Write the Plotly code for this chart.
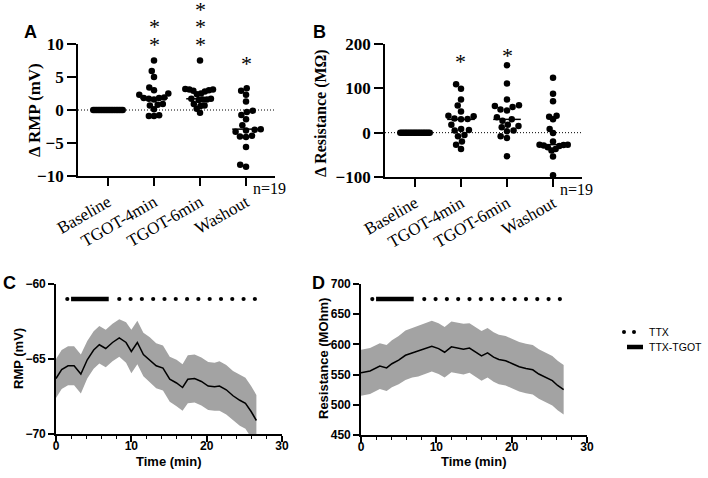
import numpy as np
import plotly.graph_objects as go

W, H = 708, 478

# ---------------- data ----------------
categories = ["Baseline", "TGOT-4min", "TGOT-6min", "Washout"]

rmp_baseline = [0, 0, 0, 0, 0, 0, 0, 0, 0, 0, 0, 0, 0, 0, 0, 0, 0, 0, 0]
rmp_tgot4 = [7.5, 5.9, 5.0, 3.4, 3.0, 2.5, 2.3, 1.9, 1.8, 1.8, 1.7, 1.6, 0.9, 0.8, 0.7, 0.1, -0.8, -0.9, -0.9]
rmp_tgot6 = [7.5, 3.2, 3.1, 3.1, 3.0, 2.9, 2.8, 2.5, 2.4, 1.7, 1.7, 1.6, 1.6, 1.5, 0.9, 0.7, 0.6, 0.2, -0.4]
rmp_washout = [3.3, 2.9, 2.3, 1.3, -0.1, -0.3, -0.75, -1.4, -2.3, -2.9, -3.0, -3.1, -3.3, -3.9, -4.0, -4.1, -5.6, -8.3, -8.6]

res_baseline = [0, 0, 0, 0, 0, 0, 0, 0, 0, 0, 0, 0, 0, 0, 0, 0, 0, 0, 0]
res_tgot4 = [109, 99, 75, 61, 48, 38, 37, 32, 31, 30, 18, 8, 6, 5, -5, -8, -20, -27, -37]
res_tgot6 = [152, 111, 75, 62, 60, 58, 52, 50, 35, 30, 27, 18, 15, 12, 5, 3, -8, -12, -53]
res_washout = [124, 88, 71, 38, 36, 30, 8, -1, -20, -27, -27, -28, -29, -30, -33, -37, -40, -54, -96]

# significance marks: category index and height (fraction of plot height) of each asterisk
rmp_star_cats = [1, 1, 2, 2, 2, 3]
rmp_star_h = [1.129, 1.0, 1.258, 1.129, 1.0, 0.849]
res_star_cats = [1, 2]
res_star_h = [0.872, 0.912]
n_label = "n=19"

t_c = [0, 0.75, 1.6, 2.4, 3.3, 4.15, 5.0, 5.75, 6.6, 7.5, 8.4, 9.3, 10.0, 10.8, 11.6,
       12.45, 13.3, 14.2, 15.1, 16.0, 16.8, 17.5, 18.4, 19.3, 20.2, 21.05, 21.7, 22.6,
       23.5, 24.4, 25.15, 25.9, 26.6]
rmp_mean = [-66.3, -65.7, -65.45, -65.45, -66.0, -65.05, -64.4, -64.05, -64.3, -63.9,
            -63.6, -63.9, -64.5, -63.9, -64.7, -65.05, -65.45, -65.6, -66.35, -66.6,
            -66.9, -66.35, -66.3, -66.5, -66.8, -66.85, -66.8, -67.05, -67.45, -67.75,
            -67.95, -68.5, -69.1]
rmp_sem = [1.3, 1.3, 1.3, 1.3, 1.3, 1.25, 1.25, 1.25, 1.25, 1.25, 1.25, 1.35, 1.45, 1.45,
           1.45, 1.5, 1.5, 1.5, 1.5, 1.55, 1.55, 1.6, 1.6, 1.6, 1.6, 1.6, 1.65, 1.65, 1.65,
           1.7, 1.7, 1.7, 1.7]

t_d = [0, 1.2, 2.5, 3.4, 4.1, 5.0, 5.9, 6.8, 7.6, 8.5, 9.4, 10.3, 11.1, 12.0, 12.8, 13.6,
       14.4, 15.2, 16.0, 16.8, 17.6, 18.3, 19.2, 20.1, 21.0, 21.9, 22.8, 23.6, 24.5, 25.4,
       26.1, 26.9]
res_mean = [553, 556, 564, 561, 568, 574, 582, 586, 589, 593, 597, 593, 587, 596, 594, 592,
            594, 588, 581, 586, 579, 575, 573, 568, 563, 560, 558, 551, 545, 540, 532, 525]
res_sem = [38, 38, 38, 38, 39, 40, 41, 41, 42, 42, 42, 42, 42, 42, 42, 42, 41, 41, 41, 41,
           41, 41, 41, 41, 41, 41, 41, 41, 41, 41, 41, 41]

ttx_times = [1.5, 8.4, 9.9, 11.4, 12.9, 14.4, 15.9, 17.4, 18.9, 20.4, 21.9, 23.4, 24.9, 26.4]
tgot_times = [2.0, 7.0]
ttx_level_c = -61
ttx_level_d = 675
legend_names = ["TTX", "TTX-TGOT"]

# ---------------- helpers ----------------
SERIF = "Liberation Serif"
SANS = "Liberation Sans"


def dx(a, b):
    return [a / W, b / W]


def dy(top, bottom):
    return [1 - bottom / H, 1 - top / H]


def swarm(vals, px_per_unit, px_per_cat=46.0, d=6.6, maxw=0.32):
    vals = np.asarray(vals, float)
    order = np.argsort(vals, kind="stable")
    placed = []
    offs = np.zeros(len(vals))
    for i in order:
        y = vals[i] * px_per_unit
        cands = [0.0]
        for (px, py) in placed:
            ddy = y - py
            if abs(ddy) < d:
                ddx = np.sqrt(d * d - ddy * ddy)
                cands += [px + ddx, px - ddx]
        cands = sorted(cands, key=lambda c: (abs(c), c))
        for c in cands:
            if all(np.hypot(c - px, y - py) >= d - 1e-6 for (px, py) in placed):
                break
        placed.append((c, y))
        offs[i] = c
    offs = offs / px_per_cat
    m = np.max(np.abs(offs))
    if m > maxw:
        offs = offs * maxw / m
    return offs


fig = go.Figure()

# ---------------- panels A & B ----------------
cat_range = [-0.652, 3.63]
panel_groups = [
    ("x", "y", [rmp_baseline, rmp_tgot4, rmp_tgot6, rmp_washout], 6.6,
     rmp_star_cats, rmp_star_h),
    ("x2", "y2", [res_baseline, res_tgot4, res_tgot6, res_washout], 0.44,
     res_star_cats, res_star_h),
]
for xa, ya, groups, ppu, scats, sh in panel_groups:
    for ci, vals in enumerate(groups):
        offs = swarm(vals, ppu)
        fig.add_trace(go.Scatter(
            x=ci + offs, y=vals, mode="markers", xaxis=xa, yaxis=ya,
            marker=dict(color="black", size=6.5, line=dict(width=0)),
            showlegend=False, hoverinfo="skip", cliponaxis=False))
        med = float(np.median(vals))
        fig.add_trace(go.Scatter(
            x=[ci - 0.3, ci + 0.3], y=[med, med], mode="lines", xaxis=xa, yaxis=ya,
            line=dict(color="black", width=1.5), showlegend=False, hoverinfo="skip"))
    # zero reference line
    fig.add_shape(type="line", xref=f"{xa} domain", yref=ya, x0=0, x1=1, y0=0, y1=0,
                  line=dict(color="black", width=1, dash="1px,2px"), layer="below")
    # asterisks
    for c, h in zip(scats, sh):
        fig.add_annotation(x=c, y=h, xref=xa, yref=f"{ya} domain", text="*",
                           showarrow=False, xanchor="center", yanchor="middle",
                           font=dict(family=SERIF, size=22, color="black"))

# n labels
fig.add_annotation(x=3.1, y=-10, xref="x", yref="y", text=n_label, showarrow=False,
                   xanchor="left", yanchor="top", yshift=-2,
                   font=dict(family=SERIF, size=16, color="black"))
fig.add_annotation(x=3.1, y=-100, xref="x2", yref="y2", text=n_label, showarrow=False,
                   xanchor="left", yanchor="top", yshift=-2,
                   font=dict(family=SERIF, size=16, color="black"))

# ---------------- panels C & D ----------------
time_panels = [
    ("x3", "y3", t_c, rmp_mean, rmp_sem, ttx_level_c),
    ("x4", "y4", t_d, res_mean, res_sem, ttx_level_d),
]
for xa, ya, tt, mean, sem, lvl in time_panels:
    mean = np.asarray(mean, float)
    sem = np.asarray(sem, float)
    fig.add_trace(go.Scatter(x=tt, y=mean + sem, mode="lines", xaxis=xa, yaxis=ya,
                             line=dict(width=0, color="#a3a3a3"), showlegend=False,
                             hoverinfo="skip"))
    fig.add_trace(go.Scatter(x=tt, y=mean - sem, mode="lines", xaxis=xa, yaxis=ya,
                             line=dict(width=0, color="#a3a3a3"), fill="tonexty",
                             fillcolor="#a3a3a3", showlegend=False, hoverinfo="skip"))
    fig.add_trace(go.Scatter(x=tt, y=mean, mode="lines", xaxis=xa, yaxis=ya,
                             line=dict(width=1.5, color="black"), showlegend=False,
                             hoverinfo="skip"))
    fig.add_trace(go.Scatter(x=ttx_times, y=[lvl] * len(ttx_times), mode="markers",
                             xaxis=xa, yaxis=ya, marker=dict(color="black", size=4.2),
                             showlegend=False, hoverinfo="skip", cliponaxis=False))
    fig.add_trace(go.Scatter(x=tgot_times, y=[lvl] * len(tgot_times), mode="lines",
                             xaxis=xa, yaxis=ya, line=dict(color="black", width=4.5),
                             showlegend=False, hoverinfo="skip"))

# manual legend (paper pixels)
for cx in [624, 634]:
    fig.add_shape(type="circle", xref="paper", yref="paper",
                  x0=(cx - 2) / W, x1=(cx + 2) / W, y0=1 - 334 / H, y1=1 - 330 / H,
                  fillcolor="black", line=dict(width=0))
fig.add_shape(type="line", xref="paper", yref="paper", x0=627 / W, x1=643 / W,
              y0=1 - 347 / H, y1=1 - 347 / H, line=dict(color="black", width=4.5))
for name, yy in zip(legend_names, [332, 347]):
    fig.add_annotation(x=647 / W, y=1 - yy / H, xref="paper", yref="paper", text=name,
                       showarrow=False, xanchor="left", yanchor="middle",
                       font=dict(family=SANS, size=10.5, color="black"))

# ---------------- axes ----------------
cat_axis = dict(range=cat_range, tickvals=[0, 1, 2, 3], ticktext=categories,
                showline=True, linecolor="black", linewidth=1.6, ticks="outside",
                ticklen=8, tickwidth=1.6, tickcolor="black", tickangle=-30,
                tickfont=dict(family=SERIF, size=17, color="black"),
                showgrid=False, zeroline=False, fixedrange=True, automargin=False)
num_axis_serif = dict(showline=True, linecolor="black", linewidth=1.6, ticks="outside",
                      ticklen=9, tickwidth=1.6, tickcolor="black",
                      tickfont=dict(family=SERIF, size=17, color="black", weight="bold"),
                      showgrid=False, zeroline=False, fixedrange=True, automargin=False)
num_axis_sans = dict(showline=True, linecolor="black", linewidth=1.6, ticks="outside",
                     ticklen=6, tickwidth=1.6, tickcolor="black",
                     tickfont=dict(family=SANS, size=12, color="black", weight="bold"),
                     showgrid=False, zeroline=False, fixedrange=True, automargin=False)
minor_ticks = dict(tickvals=[2, 4, 6, 8, 12, 14, 16, 18, 22, 24, 26, 28],
                   ticks="outside", ticklen=3.5, tickwidth=1.4, tickcolor="black")

fig.update_layout(
    width=W, height=H, margin=dict(l=0, r=0, t=0, b=0, autoexpand=False),
    paper_bgcolor="white", plot_bgcolor="white",
    showlegend=False,
    xaxis=dict(cat_axis, domain=dx(78, 275), anchor="y"),
    yaxis=dict(num_axis_serif, domain=dy(44, 176), anchor="x", range=[-10, 10],
               tickvals=[-10, -5, 0, 5, 10]),
    xaxis2=dict(cat_axis, domain=dx(385, 582), anchor="y2"),
    yaxis2=dict(num_axis_serif, domain=dy(44, 177), anchor="x2", range=[-100, 200],
                tickvals=[-100, 0, 100, 200]),
    xaxis3=dict(num_axis_sans, domain=dx(56, 282), anchor="y3", range=[0, 30],
                tickvals=[0, 10, 20, 30], minor=minor_ticks, ticklabelstandoff=-6),
    yaxis3=dict(num_axis_sans, domain=dy(284, 434), anchor="x3", range=[-70, -60],
                tickvals=[-70, -65, -60]),
    xaxis4=dict(num_axis_sans, domain=dx(361, 587), anchor="y4", range=[0, 30],
                tickvals=[0, 10, 20, 30], minor=minor_ticks, ticklabelstandoff=-6),
    yaxis4=dict(num_axis_sans, domain=dy(284, 435), anchor="x4", range=[450, 700],
                tickvals=[450, 500, 550, 600, 650, 700]),
)

# panel letters
for txt, x, y in [("A", 30, 32), ("B", 319, 32), ("C", 9, 283), ("D", 318, 283)]:
    fig.add_annotation(x=x / W, y=1 - y / H, xref="paper", yref="paper", text=f"<b>{txt}</b>",
                       showarrow=False, xanchor="center", yanchor="middle",
                       font=dict(family=SANS, size=18, color="black"))

# axis titles
titles = [
    ("<b>\u0394 RMP (mV)</b>", 34, 110, SERIF, 17),
    ("<b>\u0394 Resistance (M\u03a9)</b>", 321, 113, SERIF, 16),
    ("<b>RMP (mV)</b>", 18, 359, SANS, 13),
    ("<b>Resistance (MOhm)</b>", 323, 359, SANS, 13),
]
for txt, x, y, fam, sz in titles:
    fig.add_annotation(x=x / W, y=1 - y / H, xref="paper", yref="paper", text=txt,
                       showarrow=False, textangle=-90, xanchor="center", yanchor="middle",
                       font=dict(family=fam, size=sz, color="black"))
for x in [169, 474]:
    fig.add_annotation(x=x / W, y=1 - 461 / H, xref="paper", yref="paper",
                       text="<b>Time (min)</b>", showarrow=False, xanchor="center",
                       yanchor="middle", font=dict(family=SANS, size=13, color="black"))

fig.write_html(
    "out.html",
    config={"displayModeBar": False},
    post_script="document.body.style.margin='0';document.documentElement.style.margin='0';",
)
